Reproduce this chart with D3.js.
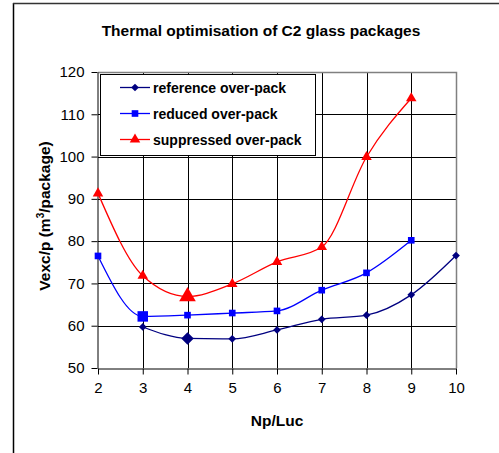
<!DOCTYPE html>
<html><head><meta charset="utf-8">
<script src="https://cdn.jsdelivr.net/npm/d3@7"></script>
<style>body{margin:0;background:#fff}svg{display:block}text{font-family:Arial,"Liberation Sans",sans-serif}</style>
</head><body>
<script>
const title = "Thermal optimisation of C2 glass packages";
const xLabel = "Np/Luc";
const xValues = [2, 3, 4, 5, 6, 7, 8, 9, 10];
const referenceValues = [null, 59.7, 57.0, 56.9, 59.0, 61.5, 62.5, 67.3, 76.6];
const reducedValues = [76.5, 62.2, 62.5, 63.0, 63.5, 68.4, 72.5, 80.2, null];
const suppressedValues = [91.3, 71.8, 66.9, 69.9, 75.1, 78.6, 99.9, 113.8, null];
const seriesNames = ["reference over-pack", "reduced over-pack", "suppressed over-pack"];
const highlightX = [4, 3, 4];
const xTicks = [2, 3, 4, 5, 6, 7, 8, 9, 10];
const yTicks = [50, 60, 70, 80, 90, 100, 110, 120];

const W = 499, H = 453;
const m = {left: 98, right: 456, top: 72, bottom: 368};
const colors = ["#000080", "#0000FF", "#FF0000"];
const shapes = [d3.symbolDiamond2, d3.symbolSquare, d3.symbolTriangle];
const sizes = [[38, 100], [44, 110], [48, 120]];

const svg = d3.select("body").append("svg").attr("width", W).attr("height", H);
// outer frame
svg.append("line").attr("x1", 13.5).attr("x2", 13.5).attr("y1", 3).attr("y2", H).attr("stroke", "#000").attr("stroke-width", 1.5);
svg.append("line").attr("x1", 13).attr("x2", W).attr("y1", 3.5).attr("y2", 3.5).attr("stroke", "#333").attr("stroke-width", 1.5);

const x = d3.scaleLinear().domain([2, 10]).range([m.left, m.right]);
const y = d3.scaleLinear().domain([50, 120]).range([m.bottom, m.top]);

// grid
svg.append("g").selectAll("line").data(xTicks.slice(1, -1)).join("line")
  .attr("x1", d => Math.round(x(d)) + 0.5).attr("x2", d => Math.round(x(d)) + 0.5)
  .attr("y1", m.top).attr("y2", m.bottom).attr("stroke", "#000").attr("stroke-width", 1);
svg.append("g").selectAll("line").data(yTicks.slice(1, -1)).join("line")
  .attr("y1", d => Math.round(y(d)) + 0.5).attr("y2", d => Math.round(y(d)) + 0.5)
  .attr("x1", m.left).attr("x2", m.right).attr("stroke", "#000").attr("stroke-width", 1);
// plot border top/right
svg.append("path").attr("d", `M${m.left},${m.top + 0.5}H${m.right + 0.5}V${m.bottom}`)
  .attr("fill", "none").attr("stroke", "#808080").attr("stroke-width", 1.5);

// axes
const xAxis = svg.append("g").attr("transform", `translate(0,${m.bottom + 0.5})`)
  .call(d3.axisBottom(x).tickValues(xTicks).tickSize(6).tickSizeOuter(0).tickPadding(8));
const yAxis = svg.append("g").attr("transform", `translate(${m.left - 0.5},0)`)
  .call(d3.axisLeft(y).tickValues(yTicks).tickSize(6).tickSizeOuter(0).tickPadding(7));
[xAxis, yAxis].forEach(a => {
  a.selectAll("path,line").attr("stroke", "#000");
  a.selectAll("text").attr("font-size", 15).attr("fill", "#000").attr("font-family", "Arial, 'Liberation Sans', sans-serif");
});

// title & axis labels
svg.append("text").attr("x", 261).attr("y", 36).attr("text-anchor", "middle")
  .attr("font-size", 15.5).attr("font-weight", "bold").text(title);
svg.append("text").attr("x", (m.left + m.right) / 2).attr("y", 426).attr("text-anchor", "middle")
  .attr("font-size", 15.5).attr("font-weight", "bold").text(xLabel);
const yl = svg.append("text").attr("transform", `translate(50,${(m.top + m.bottom) / 2 - 4}) rotate(-90)`)
  .attr("text-anchor", "middle").attr("font-size", 15.5).attr("font-weight", "bold");
yl.append("tspan").text("Vexc/p (m");
yl.append("tspan").attr("font-size", 10).attr("dy", -6).text("3");
yl.append("tspan").attr("dy", 6).text("/package)");

// series
const allSeries = [referenceValues, reducedValues, suppressedValues];
const line = d3.line().x(d => x(d[0])).y(d => y(d[1])).curve(d3.curveMonotoneX);
allSeries.forEach((vals, i) => {
  const pts = xValues.map((xv, j) => [xv, vals[j]]).filter(d => d[1] != null);
  svg.append("path").datum(pts).attr("d", line).attr("fill", "none")
    .attr("stroke", colors[i]).attr("stroke-width", 1.3);
});
allSeries.forEach((vals, i) => {
  const pts = xValues.map((xv, j) => [xv, vals[j]]).filter(d => d[1] != null);
  svg.append("g").selectAll("path").data(pts).join("path")
    .attr("transform", d => `translate(${x(d[0])},${y(d[1])})`)
    .attr("d", d => d3.symbol(shapes[i], d[0] === highlightX[i] ? sizes[i][1] : sizes[i][0])())
    .attr("fill", colors[i]);
});

// legend
const lg = svg.append("g");
lg.append("rect").attr("x", 100.5).attr("y", 74.5).attr("width", 215).attr("height", 81)
  .attr("fill", "#fff").attr("stroke", "#000").attr("stroke-width", 1);
seriesNames.forEach((name, i) => {
  const yy = 87.5 + i * 26;
  lg.append("line").attr("x1", 120).attr("x2", 150).attr("y1", yy).attr("y2", yy)
    .attr("stroke", colors[i]).attr("stroke-width", 1.3);
  lg.append("path").attr("transform", `translate(135,${yy})`)
    .attr("d", d3.symbol(shapes[i], sizes[i][0])()).attr("fill", colors[i]);
  lg.append("text").attr("x", 153).attr("y", yy + 5).attr("font-size", 14)
    .attr("font-weight", "bold").text(name);
});
</script>
</body></html>
